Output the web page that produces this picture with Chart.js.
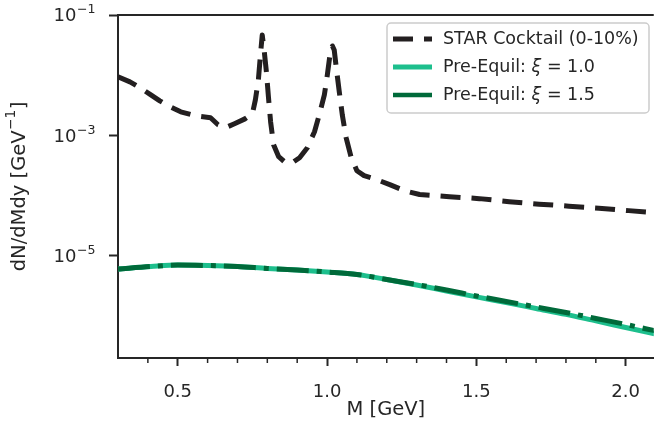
<!DOCTYPE html>
<html>
<head>
<meta charset="utf-8">
<script src="https://cdn.jsdelivr.net/npm/chart.js@4.4.1/dist/chart.umd.min.js"></script>
<style>
  html, body { margin: 0; padding: 0; background: #fff; }
  canvas { display: block; }
</style>
</head>
<body>
<canvas id="grafico" width="656" height="434"></canvas>
<script>
// === DADOS ===
const massCocktail = [
  0.30, 0.34, 0.375, 0.41, 0.44, 0.475, 0.51, 0.56, 0.61, 0.635,
  0.66, 0.69, 0.725, 0.75, 0.76, 0.77, 0.777, 0.783, 0.79, 0.797,
  0.804, 0.811, 0.821, 0.838, 0.861, 0.884, 0.908, 0.934, 0.958, 0.974,
  0.991, 1.001, 1.011, 1.018, 1.024, 1.031, 1.041, 1.051, 1.064, 1.081,
  1.10, 1.124, 1.158, 1.21, 1.258, 1.31, 1.41, 1.51, 1.61, 1.71,
  1.81, 1.91, 2.01, 2.10
];
const cocktail = [
  9.37e-3, 7.74e-3, 6.15e-3, 4.71e-3, 3.75e-3, 2.98e-3, 2.46e-3, 2.11e-3, 1.96e-3, 1.50e-3,
  1.34e-3, 1.56e-3, 1.88e-3, 2.28e-3, 3.89e-3, 8.36e-3, 2.17e-2, 4.66e-2, 2.43e-2, 1.13e-2,
  4.21e-3, 1.68e-3, 6.98e-4, 4.42e-4, 3.52e-4, 3.52e-4, 4.26e-4, 6.22e-4, 1.15e-3, 2.20e-3,
  4.71e-3, 1.01e-2, 2.43e-2, 3.06e-2, 2.63e-2, 1.32e-2, 5.28e-3, 2.20e-3, 9.12e-4, 4.26e-4,
  2.59e-4, 2.14e-4, 1.91e-4, 1.52e-4, 1.21e-4, 1.04e-4, 9.59e-5, 8.89e-5, 7.92e-5, 7.20e-5,
  6.67e-5, 6.18e-5, 5.62e-5, 5.20e-5
];

const massPre = [0.30, 0.41, 0.50, 0.60, 0.70, 0.80, 0.90, 1.00, 1.10, 1.20,
                 1.30, 1.40, 1.50, 1.60, 1.70, 1.80, 1.90, 2.00, 2.10];
const preEquilXi10 = [6.01e-6, 6.62e-6, 7.01e-6, 6.88e-6, 6.62e-6, 6.14e-6, 5.79e-6, 5.37e-6, 4.88e-6, 4.03e-6,
                      3.27e-6, 2.60e-6, 2.07e-6, 1.67e-6, 1.33e-6, 1.06e-6, 8.26e-7, 6.44e-7, 5.02e-7];
const preEquilXi15 = [6.01e-6, 6.62e-6, 7.01e-6, 6.88e-6, 6.62e-6, 6.14e-6, 5.79e-6, 5.37e-6, 4.88e-6, 4.03e-6,
                      3.33e-6, 2.70e-6, 2.15e-6, 1.74e-6, 1.41e-6, 1.14e-6, 9.09e-7, 7.23e-7, 5.64e-7];

const xTickValues = [0.5, 1.0, 1.5, 2.0];
const xMinorTicks = [0.4, 0.6, 0.7, 0.8, 0.9, 1.1, 1.2, 1.3, 1.4, 1.6, 1.7, 1.8, 1.9];
const yTickValues = [1e-5, 1e-3, 1e-1];
const yTickLabels = [['10', '−5'], ['10', '−3'], ['10', '−1']];

const labels = ['STAR Cocktail (0-10%)', 'Pre-Equil: ξ = 1.0', 'Pre-Equil: ξ = 1.5'];
const xTitle = 'M [GeV]';
const yTitle = ['dN/dMdy [GeV', '−1', ']'];

// === ESTILOS ===
const FONTE = "'DejaVu Sans', sans-serif";
const TAM_TICK = 18;
const TAM_TITULO = 19.5;
const TAM_LEGENDA = 17.5;
const corEixo = '#262626';
const corPreto = '#231f20';
const corVerdeClaro = '#1dbf8d';
const corVerdeEscuro = '#006a3a';

const pontos = (xs, ys) => xs.map((x, i) => ({ x: x, y: ys[i] }));

// texto com expoente (tipo mathtext): base + sobrescrito
function larguraPartes(c, partes, tam) {
  let w = 0;
  partes.forEach((t, i) => {
    c.font = (i === 1 ? tam * 0.7 : tam) + 'px ' + FONTE;
    w += c.measureText(t).width + (i === 1 ? 1 : 0);
  });
  return w;
}
function desenhaPartes(c, partes, x, base, tam) {
  partes.forEach((t, i) => {
    const sup = i === 1;
    c.font = (sup ? tam * 0.7 : tam) + 'px ' + FONTE;
    c.fillText(t, x + (sup ? 0.5 : 0), sup ? base - tam * 0.45 : base);
    x += c.measureText(t).width + (sup ? 1 : 0);
  });
}

const extrasPlugin = {
  id: 'extras',
  afterDraw(chart) {
    const c = chart.ctx;
    const area = chart.chartArea;
    c.save();

    // moldura de cima
    c.strokeStyle = corEixo;
    c.lineWidth = 2;
    c.beginPath();
    c.moveTo(area.left - 1, area.top);
    c.lineTo(area.right, area.top);
    c.stroke();

    // ticks menores do eixo x
    const xs = chart.scales.x;
    c.lineWidth = 1.5;
    xMinorTicks.forEach(v => {
      const px = xs.getPixelForValue(v);
      c.beginPath();
      c.moveTo(px, area.bottom);
      c.lineTo(px, area.bottom + 5);
      c.stroke();
    });

    // rótulos do eixo y (10 com expoente)
    const ys = chart.scales.y;
    c.fillStyle = corEixo;
    c.textAlign = 'left';
    c.textBaseline = 'alphabetic';
    yTickValues.forEach((v, i) => {
      const py = ys.getPixelForValue(v);
      const w = larguraPartes(c, yTickLabels[i], TAM_TICK);
      desenhaPartes(c, yTickLabels[i], 96 - w, py + TAM_TICK * 0.36, TAM_TICK);
    });

    // título do eixo y
    c.save();
    c.translate(20, (area.top + area.bottom) / 2);
    c.rotate(-Math.PI / 2);
    c.textBaseline = 'middle';
    const wt = larguraPartes(c, yTitle, TAM_TITULO);
    desenhaPartes(c, yTitle, -wt / 2, 0, TAM_TITULO);
    c.restore();

    // caixa da legenda
    const bx = 387, by = 23, bw = 262, bh = 90, r = 4;
    c.beginPath();
    c.moveTo(bx + r, by);
    c.arcTo(bx + bw, by, bx + bw, by + bh, r);
    c.arcTo(bx + bw, by + bh, bx, by + bh, r);
    c.arcTo(bx, by + bh, bx, by, r);
    c.arcTo(bx, by, bx + bw, by, r);
    c.closePath();
    c.fillStyle = 'rgba(255,255,255,0.85)';
    c.fill();
    c.strokeStyle = '#cccccc';
    c.lineWidth = 1.5;
    c.stroke();

    const estilos = [
      { color: corPreto, dash: [20, 11], width: 5 },
      { color: corVerdeClaro, dash: [], width: 5 },
      { color: corVerdeEscuro, dash: [], width: 4.5 }
    ];
    const linhasY = [39, 67, 95];

    estilos.forEach((e, i) => {
      const y = linhasY[i];
      c.strokeStyle = e.color;
      c.lineWidth = e.width;
      c.lineCap = 'butt';
      c.setLineDash(e.dash);
      c.beginPath();
      c.moveTo(393, y);
      c.lineTo(432, y);
      c.stroke();
      c.setLineDash([]);

      c.fillStyle = corEixo;
      c.textBaseline = 'middle';
      c.textAlign = 'left';
      let tx = 443;
      const txt = labels[i];
      const k = txt.indexOf('ξ');
      const partes = k < 0 ? [[txt, false]] : [[txt.slice(0, k), false], ['ξ', true], [txt.slice(k + 1), false]];
      partes.forEach(([t, it]) => {
        c.font = (it ? 'italic ' : '') + TAM_LEGENDA + 'px ' + FONTE;
        c.fillText(t, tx, y);
        tx += c.measureText(t).width;
      });
    });

    c.restore();
  }
};

const ctx = document.getElementById('grafico');

const grafico = new Chart(ctx, {
  type: 'line',
  data: {
    datasets: [
      {
        label: labels[0],
        data: pontos(massCocktail, cocktail),
        borderColor: corPreto,
        borderWidth: 5,
        borderDash: [20, 11],
        borderCapStyle: 'butt',
        borderJoinStyle: 'round',
        pointRadius: 0,
        tension: 0,
        order: 2
      },
      {
        label: labels[1],
        data: pontos(massPre, preEquilXi10),
        borderColor: corVerdeClaro,
        borderWidth: 5,
        borderJoinStyle: 'round',
        pointRadius: 0,
        cubicInterpolationMode: 'monotone',
        order: 1
      },
      {
        label: labels[2],
        data: pontos(massPre, preEquilXi15),
        borderColor: corVerdeEscuro,
        borderWidth: 5,
        borderDash: [32, 8, 5, 8],
        borderCapStyle: 'butt',
        borderJoinStyle: 'round',
        pointRadius: 0,
        cubicInterpolationMode: 'monotone',
        order: 0
      }
    ]
  },
  options: {
    responsive: false,
    animation: false,
    layout: { padding: { top: 15, right: 0, left: 0, bottom: 0 } },
    scales: {
      x: {
        type: 'linear',
        min: 0.3,
        max: 2.094,
        afterFit: s => { s.height = 76; },
        afterBuildTicks: s => { s.ticks = xTickValues.map(v => ({ value: v })); },
        grid: { drawOnChartArea: false, drawTicks: true, tickLength: 8, tickWidth: 2, tickColor: corEixo },
        border: { display: true, color: corEixo, width: 2 },
        ticks: {
          color: corEixo,
          font: { family: FONTE, size: TAM_TICK },
          padding: 16,
          maxRotation: 0,
          callback: v => v.toFixed(1)
        },
        title: {
          display: true,
          text: xTitle,
          color: corEixo,
          font: { family: FONTE, size: TAM_TITULO },
          padding: { top: 0, bottom: 12 }
        }
      },
      y: {
        type: 'logarithmic',
        min: 2e-7,
        max: 0.1,
        afterFit: s => { s.width = 118; },
        afterBuildTicks: s => { s.ticks = yTickValues.map(v => ({ value: v })); },
        grid: { drawOnChartArea: false, drawTicks: true, tickLength: 9, tickWidth: 2, tickColor: corEixo },
        border: { display: true, color: corEixo, width: 2 },
        ticks: { display: false }
      }
    },
    plugins: {
      legend: { display: false },
      tooltip: { enabled: false }
    }
  },
  plugins: [extrasPlugin]
});
</script>
</body>
</html>
